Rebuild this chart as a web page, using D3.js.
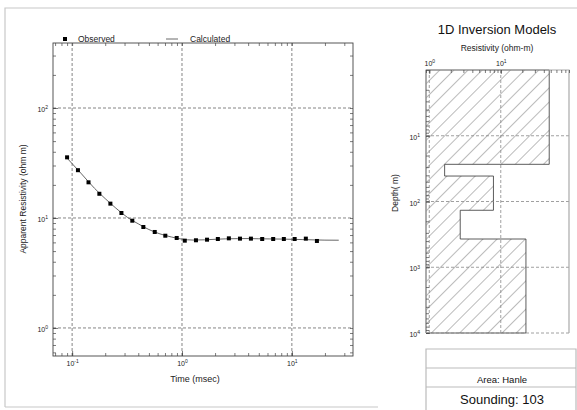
<!DOCTYPE html>
<html lang="en">
<head>
<meta charset="UTF-8">
<title>TEM Sounding 103</title>
<script src="https://d3js.org/d3.v7.min.js"></script>
<style>
    body { margin: 0; padding: 0; background: #fff; }
    svg { display: block; font-family: "Liberation Sans", Arial, sans-serif; }
    .tick text { font-size: 7px; fill: #222; }
</style>
</head>
<body>
<svg id="chart" width="577" height="410"></svg>
<script>
    // observed apparent resistivity
    const times = [0.09, 0.113, 0.141, 0.177, 0.223, 0.281, 0.353, 0.445, 0.565, 0.705, 0.895, 1.06,
                   1.34, 1.69, 2.12, 2.67, 3.37, 4.24, 5.37, 6.76, 8.45, 10.6, 13.4, 16.9];
    const observed = [35.6, 27.2, 21.1, 16.6, 13.5, 11.1, 9.45, 8.28, 7.46, 6.9, 6.58, 6.22,
                      6.27, 6.35, 6.44, 6.53, 6.49, 6.49, 6.44, 6.44, 6.44, 6.44, 6.49, 6.18];

    // calculated curve
    const calcTimes = [0.09, 0.12, 0.16, 0.2, 0.25, 0.32, 0.4, 0.5, 0.63, 0.8, 1.0, 1.26, 1.6,
                       2.0, 2.5, 3.2, 4.0, 5.0, 6.3, 8.0, 10, 12.6, 16, 20, 26.7];
    const calculated = [35.0, 25.6, 18.6, 15.0, 12.3, 10.1, 8.85, 7.85, 7.17, 6.72, 6.42, 6.3, 6.33,
                        6.4, 6.46, 6.49, 6.5, 6.47, 6.45, 6.43, 6.4, 6.36, 6.32, 6.29, 6.28];

    // 1D model: layer resistivities and bottom depths
    const layerRes = [47.6, 1.64, 7.9, 2.71, 22.5];
    const layerDepth = [27.2, 41, 136, 372];

    const decades = [0.1, 1, 10];
    const rhoDecades = [1, 10, 100];
    const modelResDecades = [1, 10];
    const depthDecades = [10, 100, 1000, 10000];

    const svg = d3.select("#chart");

    // panel borders
    svg.append("path")
        .attr("d", "M5,407V8H577 M5,407H378")
        .attr("fill", "none").attr("stroke", "#c8c8c8").attr("stroke-width", 1.2);

    function minors(lo, hi) {
        const out = [];
        for (let e = Math.floor(Math.log10(lo)); e <= Math.ceil(Math.log10(hi)); e++) {
            for (let k = 1; k < 10; k++) {
                const v = k * Math.pow(10, e);
                if (v >= lo && v <= hi) out.push(v);
            }
        }
        return out;
    }

    function supLabels(sel) {
        sel.selectAll(".tick text").each(function(d) {
            const t = d3.select(this);
            t.text(null);
            t.append("tspan").text("10");
            t.append("tspan").attr("dy", "-0.55em").attr("font-size", "5px")
                .text(Math.round(Math.log10(d)));
        });
    }

    // ---------- left: sounding curve ----------
    const x = d3.scaleLog().domain([0.067, 36]).range([53, 353]);
    const y = d3.scaleLog().domain([0.556, 390]).range([356, 43]);

    const grid = svg.append("g").attr("stroke", "#666").attr("stroke-dasharray", "3,2").attr("stroke-width", 0.8);
    grid.selectAll(".vx").data(decades).join("line")
        .attr("x1", d => x(d)).attr("x2", d => x(d))
        .attr("y1", y.range()[0]).attr("y2", y.range()[1]);
    grid.selectAll(".hy").data(rhoDecades).join("line")
        .attr("y1", d => y(d)).attr("y2", d => y(d))
        .attr("x1", x.range()[0]).attr("x2", x.range()[1]);

    const xMin = minors(...x.domain());
    const yMin = minors(...y.domain());

    function tickAxis(axis, transform) {
        const g = svg.append("g").attr("transform", transform).call(axis);
        g.select(".domain").remove();
        g.selectAll(".tick line").attr("stroke", "#444").attr("stroke-width", 0.7);
        return g;
    }

    tickAxis(d3.axisBottom(x).tickValues(xMin).tickSize(-3).tickFormat(""), `translate(0,${y.range()[0]})`);
    tickAxis(d3.axisTop(x).tickValues(xMin).tickSize(-3).tickFormat(""), `translate(0,${y.range()[1]})`);
    tickAxis(d3.axisLeft(y).tickValues(yMin).tickSize(-3).tickFormat(""), `translate(${x.range()[0]},0)`);
    tickAxis(d3.axisRight(y).tickValues(yMin).tickSize(-3).tickFormat(""), `translate(${x.range()[1]},0)`);

    const xLab = tickAxis(d3.axisBottom(x).tickValues(decades).tickSize(-5).tickPadding(5), `translate(0,${y.range()[0]})`);
    supLabels(xLab);
    const yLab = tickAxis(d3.axisLeft(y).tickValues(rhoDecades).tickSize(-5).tickPadding(5), `translate(${x.range()[0]},0)`);
    supLabels(yLab);
    yLab.selectAll(".tick text").attr("dy", "0.5em");

    svg.append("rect")
        .attr("x", x.range()[0]).attr("y", y.range()[1])
        .attr("width", x.range()[1] - x.range()[0]).attr("height", y.range()[0] - y.range()[1])
        .attr("fill", "none").attr("stroke", "#444").attr("stroke-width", 0.9);

    const calcData = calcTimes.map((t, i) => [t, calculated[i]]);
    svg.append("path")
        .datum(calcData)
        .attr("d", d3.line().x(d => x(d[0])).y(d => y(d[1])).curve(d3.curveMonotoneX))
        .attr("fill", "none").attr("stroke", "#555").attr("stroke-width", 0.9);

    svg.selectAll(".obs").data(times).join("rect")
        .attr("x", (d) => x(d) - 2).attr("y", (d, i) => y(observed[i]) - 2)
        .attr("width", 4).attr("height", 4).attr("fill", "#000");

    // legend
    svg.append("rect").attr("x", 63).attr("y", 37).attr("width", 4).attr("height", 4).attr("fill", "#000");
    svg.append("text").attr("x", 78).attr("y", 42).attr("font-size", 8.5).attr("fill", "#222").text("Observed");
    svg.append("line").attr("x1", 166).attr("x2", 178).attr("y1", 39).attr("y2", 39).attr("stroke", "#444").attr("stroke-width", 0.8);
    svg.append("text").attr("x", 190).attr("y", 42).attr("font-size", 8.5).attr("fill", "#222").text("Calculated");

    svg.append("text")
        .attr("transform", "translate(26,199) rotate(-90)")
        .attr("text-anchor", "middle").attr("font-size", 8.5).attr("fill", "#222")
        .text("Apparent Resistivity (ohm m)");
    svg.append("text")
        .attr("x", 195).attr("y", 382)
        .attr("text-anchor", "middle").attr("font-size", 9).attr("fill", "#222")
        .text("Time (msec)");

    // ---------- right: 1D inversion model ----------
    const mx = d3.scaleLog().domain([0.9, 90]).range([426, 569]);
    const my = d3.scaleLog().domain([1, 10000]).range([70, 333]);

    const defs = svg.append("defs");
    defs.append("pattern")
        .attr("id", "hatch").attr("patternUnits", "userSpaceOnUse")
        .attr("width", 10).attr("height", 10)
        .attr("patternTransform", "rotate(45)")
        .append("line")
        .attr("x1", 0).attr("y1", 0).attr("x2", 0).attr("y2", 10)
        .attr("stroke", "#555").attr("stroke-width", 0.8);

    const left = mx.range()[0];
    const pts = [[left, my(1)]];
    layerRes.forEach((r, i) => {
        const top = i === 0 ? 1 : layerDepth[i - 1];
        const bot = i < layerDepth.length ? layerDepth[i] : 10000;
        pts.push([mx(r), my(top)], [mx(r), my(bot)]);
    });
    pts.push([left, my(10000)]);

    svg.append("path")
        .attr("d", d3.line()(pts) + "Z")
        .attr("fill", "url(#hatch)").attr("stroke", "#333").attr("stroke-width", 0.8);

    const mgrid = svg.append("g").attr("stroke", "#888").attr("stroke-dasharray", "3,2").attr("stroke-width", 0.8);
    mgrid.selectAll(".vx").data(modelResDecades).join("line")
        .attr("x1", d => mx(d)).attr("x2", d => mx(d))
        .attr("y1", my.range()[0]).attr("y2", my.range()[1]);
    mgrid.selectAll(".hy").data(depthDecades).join("line")
        .attr("y1", d => my(d)).attr("y2", d => my(d))
        .attr("x1", mx.range()[0]).attr("x2", mx.range()[1]);

    // frame: solid top/left/right, dashed bottom
    svg.append("path")
        .attr("d", `M${mx.range()[0]},${my.range()[1]}V${my.range()[0]}H${mx.range()[1]}V${my.range()[1]}`)
        .attr("fill", "none").attr("stroke", "#aaa").attr("stroke-width", 1.2);

    const mxMin = minors(...mx.domain());
    const myMin = minors(...my.domain());
    tickAxis(d3.axisTop(mx).tickValues(mxMin).tickSize(-3).tickFormat(""), `translate(0,${my.range()[0]})`);
    tickAxis(d3.axisLeft(my).tickValues(myMin).tickSize(-3).tickFormat(""), `translate(${mx.range()[0]},0)`);

    const mxLab = tickAxis(d3.axisTop(mx).tickValues(modelResDecades).tickSize(-4).tickPadding(4), `translate(0,${my.range()[0]})`);
    supLabels(mxLab);
    const myLab = tickAxis(d3.axisLeft(my).tickValues(depthDecades).tickSize(-4).tickPadding(6), `translate(${mx.range()[0]},0)`);
    supLabels(myLab);
    myLab.selectAll(".tick text").attr("dy", "0.5em");

    svg.append("text")
        .attr("x", 497).attr("y", 34)
        .attr("text-anchor", "middle").attr("font-size", 13).attr("fill", "#111")
        .text("1D Inversion Models");
    svg.append("text")
        .attr("x", 497).attr("y", 51)
        .attr("text-anchor", "middle").attr("font-size", 8.5).attr("fill", "#222")
        .text("Resistivity (ohm-m)");
    svg.append("text")
        .attr("transform", "translate(398,193) rotate(-90)")
        .attr("text-anchor", "middle").attr("font-size", 8.5).attr("fill", "#222")
        .text("Depth( m)");

    // info box
    svg.append("path")
        .attr("d", "M426,412V349H576V412 M426,368H576 M426,387H576")
        .attr("fill", "none").attr("stroke", "#bbb").attr("stroke-width", 1.2);
    svg.append("text")
        .attr("x", 502).attr("y", 383)
        .attr("text-anchor", "middle").attr("font-size", 9.5).attr("fill", "#111")
        .text("Area: Hanle");
    svg.append("text")
        .attr("x", 502).attr("y", 404)
        .attr("text-anchor", "middle").attr("font-size", 13).attr("fill", "#111")
        .text("Sounding: 103");
</script>
</body>
</html>
